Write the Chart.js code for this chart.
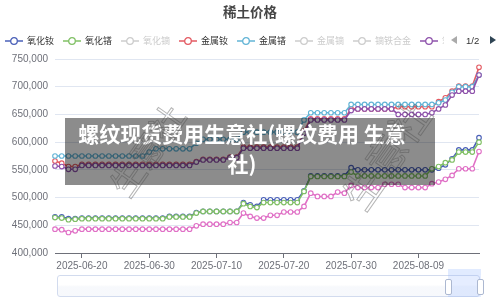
<!DOCTYPE html>
<html>
<head>
<meta charset="utf-8">
<script src="https://cdn.jsdelivr.net/npm/chart.js@4.4.1/dist/chart.umd.min.js"></script>
<style>
html, body { margin: 0; padding: 0; background: #fff; }
#wrap { position: relative; width: 500px; height: 303px; overflow: hidden; font-family: "Noto Sans CJK SC", "Noto Sans", sans-serif; }
#c { position: absolute; left: 0; top: 0; }
#title { position: absolute; left: 0; top: 0; width: 500px; text-align: center; font-size: 13.5px; font-weight: bold; color: #464646; line-height: 22px; }
#legend { position: absolute; left: 5px; top: 33px; height: 16px; display: flex; align-items: center; }
.item { display: flex; align-items: center; margin-right: 9px; }
.item svg { display: block; }
.item span { font-size: 9px; line-height: 16px; margin-left: 4px; color: #333; white-space: nowrap; }
.item.off span { color: #ccc; }
.item.cut span { width: 2px; overflow: hidden; color: #ccc; }
#prev { position: absolute; left: 451px; top: 36px; width: 0; height: 0; border-top: 4.5px solid transparent; border-bottom: 4.5px solid transparent; border-right: 6px solid #aaa; }
#next { position: absolute; left: 490px; top: 36px; width: 0; height: 0; border-top: 4.5px solid transparent; border-bottom: 4.5px solid transparent; border-left: 6px solid #2f4554; }
#page { position: absolute; left: 466px; top: 33px; font-size: 9.5px; line-height: 16px; color: #333; font-family: "Liberation Sans", sans-serif; }
#dz { position: absolute; left: 57px; top: 275px; width: 423px; height: 22px; box-sizing: border-box; border: 1px solid #d2dbee; border-radius: 3px; background: linear-gradient(to bottom, rgba(255,255,255,0) 45%, rgba(210,219,238,0.18) 55%); }
#dzwin { position: absolute; left: 448px; top: 275px; width: 33px; height: 22px; background: rgba(135,175,255,0.22); }
#dzbar { position: absolute; left: 448px; top: 269px; width: 33px; height: 6px; background: rgba(135,175,255,0.25); }
.hd { position: absolute; top: 279px; width: 5px; height: 14px; background: #fff; border: 1px solid #acb8d1; border-radius: 2px; }
.wm { position: absolute; font-size: 34px; color: transparent; -webkit-text-stroke: 1px rgba(70,70,70,0.4); white-space: nowrap; font-weight: normal; }
#mask { position: absolute; left: 65px; top: 118px; width: 370px; height: 67px; box-sizing: border-box; padding-right: 16px; background: rgba(0,0,0,0.45); color: #fff; font-size: 21px; font-weight: bold; line-height: 30px; text-align: center; }
</style>
</head>
<body>
<div id="wrap">
  <canvas id="c" width="500" height="303"></canvas>
  <div id="title">稀土价格</div>
  <div id="legend"></div>
  <div id="prev"></div>
  <div id="page">1/2</div>
  <div id="next"></div>
  <div id="dz"></div>
  <div id="dzbar"></div>
  <div id="dzwin"></div>
  <div class="hd" style="left:445px"></div>
  <div class="hd" style="left:477px"></div>
  <div id="mask">螺纹现货费用生意社(螺纹费用 生意<br>社)</div>
  <div class="wm" style="left:95px;top:125px;transform:rotate(-55deg)">生意社</div>
  <div class="wm" style="left:325px;top:125px;transform:rotate(-55deg);font-size:40px">生意社</div>
</div>
<script>
// dates shown on the category axis (one point per day)
const dates = [
    '2025-06-16', '2025-06-17', '2025-06-18', '2025-06-19', '2025-06-20', '2025-06-21', '2025-06-22', '2025-06-23',
    '2025-06-24', '2025-06-25', '2025-06-26', '2025-06-27', '2025-06-28', '2025-06-29', '2025-06-30', '2025-07-01',
    '2025-07-02', '2025-07-03', '2025-07-04', '2025-07-05', '2025-07-06', '2025-07-07', '2025-07-08', '2025-07-09',
    '2025-07-10', '2025-07-11', '2025-07-12', '2025-07-13', '2025-07-14', '2025-07-15', '2025-07-16', '2025-07-17',
    '2025-07-18', '2025-07-19', '2025-07-20', '2025-07-21', '2025-07-22', '2025-07-23', '2025-07-24', '2025-07-25',
    '2025-07-26', '2025-07-27', '2025-07-28', '2025-07-29', '2025-07-30', '2025-07-31', '2025-08-01', '2025-08-02',
    '2025-08-03', '2025-08-04', '2025-08-05', '2025-08-06', '2025-08-07', '2025-08-08', '2025-08-09', '2025-08-10',
    '2025-08-11', '2025-08-12', '2025-08-13', '2025-08-14', '2025-08-15', '2025-08-16', '2025-08-17', '2025-08-18'
];
const tickDates = [ '2025-06-20', '2025-06-30', '2025-07-10', '2025-07-20', '2025-07-30', '2025-08-09' ];

// 氧化钕
const ndOxide = [
    465000, 465000, 462000, 462000, 463000, 463000, 463000, 463000, 463000, 463000, 463000, 463000, 463000, 463000, 463000, 463000,
    463000, 466000, 466000, 466000, 466000, 473000, 475000, 475000, 475000, 475000, 475000, 475000, 491000, 487000, 484000, 496000,
    496000, 496000, 496000, 496000, 496000, 512000, 539000, 539000, 539000, 539000, 539000, 539000, 554000, 550000, 550000, 550000,
    550000, 550000, 550000, 550000, 550000, 550000, 550000, 550000, 550000, 553000, 559000, 570000, 586000, 586000, 586000, 608000
];
// 氧化镨
const prOxide = [
    464000, 463000, 460000, 461000, 462000, 462000, 462000, 462000, 462000, 462000, 462000, 462000, 462000, 462000, 462000, 462000,
    462000, 465000, 465000, 465000, 465000, 472000, 475000, 475000, 475000, 475000, 475000, 475000, 489000, 484000, 482000, 491000,
    491000, 491000, 491000, 491000, 491000, 511000, 538000, 538000, 538000, 538000, 538000, 538000, 546000, 539000, 539000, 539000,
    539000, 539000, 539000, 539000, 539000, 539000, 539000, 539000, 552000, 556000, 563000, 568000, 582000, 582000, 582000, 600000
];
// 金属钕
const ndMetal = [
    566000, 562000, 556000, 556000, 560000, 560000, 560000, 560000, 560000, 560000, 560000, 560000, 560000, 560000, 560000, 560000,
    560000, 560000, 560000, 560000, 560000, 565000, 569000, 569000, 569000, 569000, 573000, 573000, 591000, 591000, 591000, 591000,
    591000, 591000, 591000, 591000, 591000, 620000, 642000, 642000, 642000, 642000, 642000, 642000, 660000, 660000, 660000, 660000,
    660000, 660000, 660000, 664000, 664000, 664000, 664000, 664000, 664000, 673000, 680000, 692000, 701000, 701000, 701000, 735000
];
// 金属镨
const prMetal = [
    575000, 575000, 575000, 575000, 575000, 575000, 575000, 575000, 575000, 575000, 575000, 575000, 575000, 575000, 582000, 588000,
    588000, 588000, 588000, 588000, 588000, 598000, 605000, 605000, 605000, 605000, 605000, 605000, 618000, 618000, 618000, 618000,
    618000, 618000, 618000, 618000, 618000, 640000, 653000, 653000, 653000, 653000, 653000, 653000, 668000, 668000, 668000, 668000,
    668000, 668000, 668000, 668000, 668000, 668000, 668000, 668000, 668000, 671000, 676000, 690000, 700000, 700000, 700000, 721000
];
// 氧化镨钕
const prNdOxide = [
    557000, 556000, 551000, 551000, 558000, 558000, 558000, 558000, 558000, 558000, 558000, 558000, 558000, 558000, 558000, 558000,
    558000, 558000, 558000, 558000, 558000, 564000, 568000, 568000, 568000, 568000, 572000, 572000, 589000, 589000, 589000, 589000,
    589000, 589000, 589000, 589000, 589000, 616000, 640000, 640000, 640000, 640000, 640000, 640000, 657000, 660000, 660000, 660000,
    660000, 660000, 660000, 650000, 650000, 650000, 650000, 650000, 653000, 660000, 667000, 685000, 692000, 692000, 692000, 721000
];
// 镨钕合金
const prNdAlloy = [
    443000, 442000, 437000, 440000, 443000, 443000, 443000, 443000, 443000, 443000, 443000, 443000, 443000, 443000, 443000, 443000,
    443000, 443000, 443000, 443000, 443000, 449000, 452000, 452000, 452000, 452000, 455000, 455000, 472000, 466000, 463000, 463000,
    468000, 468000, 474000, 474000, 474000, 484000, 508000, 502000, 502000, 502000, 510000, 508000, 522000, 518000, 518000, 518000,
    518000, 524000, 524000, 524000, 518000, 518000, 518000, 518000, 525000, 528000, 533000, 540000, 552000, 552000, 552000, 583000
];

const yTicks = [ 400000, 450000, 500000, 550000, 600000, 650000, 700000, 750000 ];

// legend entries (page 1), greyed ones are switched off
const legendNames = [ '氧化钕', '氧化镨', '氧化镝', '金属钕', '金属镨', '金属镝', '镝铁合金', '氧化镨钕' ];
const legendColors = [ '#4a60b8', '#80c065', '#fac858', '#e35a62', '#62b4d6', '#3ba272', '#fc8452', '#8e52ab' ];
const legendOff = [ false, false, true, false, false, true, true, false ];

let legend = document.getElementById( 'legend' );
legendNames.forEach( function ( name, i )
{
    let col = legendOff[ i ] ? '#ccc' : legendColors[ i ];
    let item = document.createElement( 'div' );
    item.className = 'item' + ( legendOff[ i ] ? ' off' : '' ) + ( i === legendNames.length - 1 ? ' cut' : '' );
    item.innerHTML = '<svg width="18" height="10"><line x1="0" y1="5" x2="18" y2="5" stroke="' + col + '" stroke-width="1.5"/>' +
        '<circle cx="9" cy="5" r="3.3" fill="#fff" stroke="' + col + '" stroke-width="1.3"/></svg><span>' + name + '</span>';
    legend.appendChild( item );
} );

function series ( label, data, color, order )
{
    return {
        label: label,
        data: data,
        borderColor: color,
        backgroundColor: color,
        borderWidth: 1.6,
        pointRadius: 2.3,
        pointBorderWidth: 1.1,
        pointBorderColor: color,
        pointBackgroundColor: '#fff',
        tension: 0,
        fill: false,
        order: order
    };
}

let ctx = document.getElementById( 'c' ).getContext( '2d' );
let chart = new Chart( ctx, {
    type: 'line',
    data: {
        labels: dates,
        datasets: [
            series( '氧化钕', ndOxide, '#4a60b8', 6 ),
            series( '氧化镨', prOxide, '#80c065', 5 ),
            series( '金属钕', ndMetal, '#e35a62', 4 ),
            series( '金属镨', prMetal, '#62b4d6', 3 ),
            series( '氧化镨钕', prNdOxide, '#8e52ab', 2 ),
            series( '镨钕合金', prNdAlloy, '#e070c6', 1 )
        ]
    },
    options: {
        responsive: false,
        animation: false,
        devicePixelRatio: 1,
        layout: { padding: { top: 59, left: 0, right: 21, bottom: 0 } },
        plugins: {
            legend: { display: false },
            title: { display: false },
            tooltip: { enabled: false }
        },
        scales: {
            x: {
                type: 'category',
                offset: false,
                afterFit: function ( scale ) { scale.height = 50; },
                grid: {
                    drawOnChartArea: false,
                    drawTicks: true,
                    tickLength: 5,
                    tickColor: function ( c ) { return tickDates.includes( dates[ c.index ] ) ? '#6e7079' : 'rgba(0,0,0,0)'; }
                },
                border: { color: '#6e7079', width: 1 },
                ticks: {
                    autoSkip: false,
                    maxRotation: 0,
                    padding: 2,
                    color: '#6e7079',
                    font: { size: 10, family: 'Liberation Sans' },
                    callback: function ( value, index ) { return tickDates.includes( dates[ index ] ) ? dates[ index ] : ''; }
                }
            },
            y: {
                min: yTicks[ 0 ],
                max: yTicks[ yTicks.length - 1 ],
                afterFit: function ( scale ) { scale.width = 55; },
                grid: { color: '#e0e6f1', drawTicks: false },
                border: { display: false },
                ticks: {
                    stepSize: 50000,
                    padding: 7,
                    color: '#6e7079',
                    font: { size: 10, family: 'Liberation Sans' },
                    callback: function ( v ) { return v.toLocaleString( 'en-US' ); }
                }
            }
        }
    }
} );
</script>
</body>
</html>
